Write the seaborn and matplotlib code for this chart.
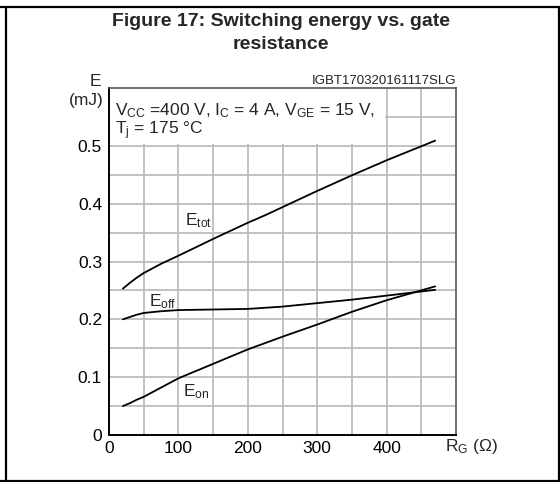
import numpy as np
import pandas as pd
import matplotlib
matplotlib.use('Agg')
import matplotlib.pyplot as plt
from matplotlib.patches import Rectangle
from matplotlib.lines import Line2D
import seaborn as sns

# values (R_G in ohm, E in mJ)
rg = [20, 30, 40, 50, 75, 100, 150, 200, 225, 250, 300, 350, 400, 470]
e_tot = [0.253, 0.263, 0.272, 0.280, 0.296, 0.310, 0.339, 0.367, 0.380, 0.394, 0.422, 0.449, 0.475, 0.509]
e_off = [0.200, 0.204, 0.208, 0.211, 0.214, 0.216, 0.217, 0.218, 0.220, 0.222, 0.228, 0.234, 0.241, 0.251]
e_on = [0.050, 0.055, 0.061, 0.066, 0.082, 0.098, 0.123, 0.148, 0.159, 0.170, 0.191, 0.213, 0.233, 0.257]

x_ticks = [0, 100, 200, 300, 400]
y_ticks = [0, 0.1, 0.2, 0.3, 0.4, 0.5]
y_tick_labels = ['0', '0.1', '0.2', '0.3', '0.4', '0.5']

df = pd.DataFrame({
    'rg': rg * 3,
    'E': e_tot + e_off + e_on,
    'curve': ['tot'] * len(rg) + ['off'] * len(rg) + ['on'] * len(rg),
})

sns.set_style('white')
plt.rcParams['font.family'] = ['Liberation Sans', 'DejaVu Sans']
plt.rcParams['mathtext.fontset'] = 'custom'
plt.rcParams['mathtext.rm'] = 'Liberation Sans'
plt.rcParams['mathtext.it'] = 'Liberation Sans:italic'
plt.rcParams['mathtext.bf'] = 'Liberation Sans:bold'

W, H = 560, 482
fig = plt.figure(figsize=(W / 100, H / 100), dpi=100)
ax = fig.add_axes([109 / W, 1 - 435 / H, (456 - 109) / W, (435 - 88) / H])

sns.lineplot(data=df, x='rg', y='E', hue='curve', units='curve', estimator=None,
             palette={'tot': 'black', 'off': 'black', 'on': 'black'},
             linewidth=1.3, legend=False, ax=ax, zorder=3)

ax.set_xlim(0, 500)
ax.set_ylim(0, 0.6)
ax.set_xticks(x_ticks)
ax.set_xticks([50, 150, 250, 350, 450], minor=True)
ax.set_yticks(y_ticks)
ax.set_yticklabels(y_tick_labels)
ax.set_yticks([0.05, 0.15, 0.25, 0.35, 0.45, 0.55], minor=True)
ax.tick_params(which='both', length=0, labelsize=12.5, colors='black')
ax.tick_params(axis='x', pad=4)
ax.tick_params(axis='y', pad=5)
ax.set_axisbelow(True)
ax.grid(True, which='both', color='#bdbdbd', linewidth=1.3)
ax.set_xlabel('')
ax.set_ylabel('')

for side in ['left', 'bottom']:
    ax.spines[side].set_color('black')
    ax.spines[side].set_linewidth(1.4)
for side in ['top', 'right']:
    ax.spines[side].set_color('#555555')
    ax.spines[side].set_linewidth(1.2)

# white box behind the test conditions
ax.add_patch(Rectangle((0, 0.503), 397, 0.1, facecolor='white', edgecolor='none', zorder=1))
ax.text(9, 0.552, r'V$_{\mathrm{CC}}$ =400 V, I$_{\mathrm{C}}$ = 4 A, V$_{\mathrm{GE}}$ = 15 V,',
        fontsize=12.5, va='baseline', zorder=4)
ax.text(9, 0.52, r'T$_{\mathrm{j}}$ = 175 °C', fontsize=12.5, va='baseline', zorder=4)

# curve labels
ax.text(110, 0.362, r'E$_{\mathrm{tot}}$', fontsize=12.5, va='baseline')
ax.text(58, 0.223, r'E$_{\mathrm{off}}$', fontsize=12.5, va='baseline')
ax.text(106, 0.067, r'E$_{\mathrm{on}}$', fontsize=12.5, va='baseline')

# axis captions
ax.text(1.0, 1.003, 'IGBT170320161117SLG', transform=ax.transAxes, fontsize=9.5,
        ha='right', va='bottom', color='#222222')
fig.text(95 / W, 1 - 81 / H, 'E', fontsize=12.5, ha='center', va='center')
fig.text(104 / W, 1 - 101 / H, '(mJ)', fontsize=12.5, ha='right', va='center')
fig.text(445 / W, 1 - 446 / H, r'R$_{\mathrm{G}}$ ($\Omega$)', fontsize=12.5, ha='left', va='center')

fig.text(281 / W, 1 - 33 / H, 'Figure 17: Switching energy vs. gate\nresistance',
         fontsize=14, fontweight='bold', ha='center', va='center', linespacing=1.5)

# outer frame
for y in [7, 481]:
    fig.add_artist(Line2D([0, 1], [1 - y / H, 1 - y / H], color='black', linewidth=1.6))
for x in [6, 558.5]:
    fig.add_artist(Line2D([x / W, x / W], [1 - 7 / H, 1 - 481 / H], color='black', linewidth=1.6))

fig.savefig('out.png', dpi=100)
